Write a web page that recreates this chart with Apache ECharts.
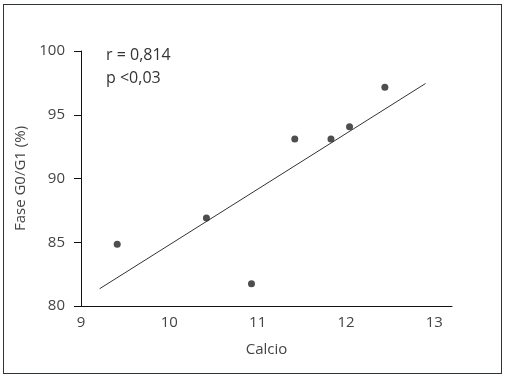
<!DOCTYPE html>
<html>
<head>
<meta charset="utf-8">
<script src="https://cdn.jsdelivr.net/npm/echarts@6/dist/echarts.min.js"></script>
<style>
  html, body { margin: 0; padding: 0; background: #fff; }
  #frame { position: absolute; left: 3px; top: 4px; width: 497px; height: 368px; border: 1.5px solid #2f3535; }
  #chart { position: absolute; left: 0; top: 0; width: 512px; height: 379px; }
</style>
</head>
<body>
<div id="frame"></div>
<div id="chart"></div>
<script>
// puntos: calcio vs fase G0/G1 (%)
const calcio = [9.41, 10.42, 10.93, 11.42, 11.83, 12.04, 12.44];
const faseG0G1 = [84.85, 86.9, 81.75, 93.1, 93.1, 94.05, 97.15];
// recta de regresion (extremos)
const lineaX = [9.21, 12.9];
const lineaY = [81.35, 97.45];
const xTicks = [9, 10, 11, 12, 13];
const yTicks = [80, 85, 90, 95, 100];

const font = "'Open Sans', 'Noto Sans', sans-serif";
const chart = echarts.init(document.getElementById("chart"));

const option = {
  animation: false,
  grid: { left: 81, right: 60, top: 51, bottom: 73 },
  xAxis: {
    type: "value",
    min: 9,
    max: 13.2,
    interval: 1,
    name: "Calcio",
    nameLocation: "middle",
    nameGap: 36,
    nameTextStyle: { fontFamily: font, fontSize: 15, color: "#444" },
    axisLine: { lineStyle: { color: "#111", width: 1 } },
    axisTick: { show: false },
    splitLine: { show: false },
    axisLabel: {
      margin: 9,
      fontFamily: font,
      fontSize: 15,
      color: "#444",
      formatter: (v) => (xTicks.includes(v) ? String(v) : ""),
    },
  },
  yAxis: {
    type: "value",
    min: yTicks[0],
    max: yTicks[yTicks.length - 1],
    interval: 5,
    name: "Fase G0/G1 (%)",
    nameLocation: "middle",
    nameGap: 50,
    nameTextStyle: { fontFamily: font, fontSize: 15, color: "#444" },
    axisLine: { show: true, lineStyle: { color: "#111", width: 1 } },
    axisTick: { show: true, inside: false, length: 7, lineStyle: { color: "#111" } },
    splitLine: { show: false },
    axisLabel: { margin: 16, fontFamily: font, fontSize: 15, color: "#444", padding: [6, 0, 0, 0] },
  },
  graphic: [
    { type: "text", left: 106, top: 47, style: { text: "r = 0,814", font: "16px " + font, fill: "#333" } },
    { type: "text", left: 106, top: 70, style: { text: "p <0,03", font: "16px " + font, fill: "#333" } },
  ],
  series: [
    {
      type: "line",
      data: lineaX.map((x, i) => [x, lineaY[i]]),
      symbol: "none",
      lineStyle: { color: "#333", width: 1 },
    },
    {
      type: "scatter",
      data: calcio.map((x, i) => [x, faseG0G1[i]]),
      symbol: "circle",
      symbolSize: 7,
      itemStyle: { color: "#222" },
    },
  ],
};
chart.setOption(option);
</script>
</body>
</html>
